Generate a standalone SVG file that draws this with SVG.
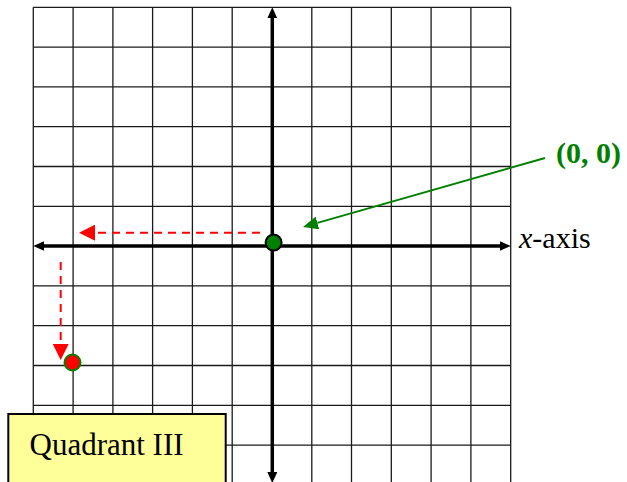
<svg xmlns="http://www.w3.org/2000/svg" width="627" height="482" viewBox="0 0 627 482">
  <style>
    .grid line { stroke: #1a1a1a; stroke-width: 1.3; }
    .axis { stroke: #000; stroke-width: 3.5; fill: none; }
    .reddash { stroke: #ff0000; stroke-width: 2; stroke-dasharray: 8 6; fill: none; }
    .greenline { stroke: #008000; stroke-width: 2; fill: none; }
    .lbl { font-family: "Liberation Serif", "Times New Roman", serif; fill: #000; }
  </style>
  <defs>
    <marker id="axisArrow" markerUnits="userSpaceOnUse" markerWidth="11" markerHeight="10" viewBox="0 0 11 10" refX="5" refY="5" orient="auto">
      <path d="M0,0 L11,5 L0,10 z" fill="#000"/>
    </marker>
    <marker id="redArrow" markerUnits="userSpaceOnUse" markerWidth="16" markerHeight="16" viewBox="0 0 16 16" refX="0" refY="8" orient="auto">
      <path d="M0,0 L16,8 L0,16 z" fill="#ff0000"/>
    </marker>
    <marker id="greenArrow" markerUnits="userSpaceOnUse" markerWidth="15" markerHeight="13" viewBox="0 0 15 13" refX="0" refY="6.5" orient="auto">
      <path d="M0,0 L15,6.5 L0,13 z" fill="#008000"/>
    </marker>
  </defs>
  <rect x="0" y="0" width="627" height="482" fill="#fff"/>

  <g id="grid" class="grid">
    <line x1="33.3" y1="7.3" x2="33.3" y2="482"/>
    <line x1="73.1" y1="7.3" x2="73.1" y2="482"/>
    <line x1="112.9" y1="7.3" x2="112.9" y2="482"/>
    <line x1="152.6" y1="7.3" x2="152.6" y2="482"/>
    <line x1="192.4" y1="7.3" x2="192.4" y2="482"/>
    <line x1="232.2" y1="7.3" x2="232.2" y2="482"/>
    <line x1="311.8" y1="7.3" x2="311.8" y2="482"/>
    <line x1="351.5" y1="7.3" x2="351.5" y2="482"/>
    <line x1="391.3" y1="7.3" x2="391.3" y2="482"/>
    <line x1="431.1" y1="7.3" x2="431.1" y2="482"/>
    <line x1="470.9" y1="7.3" x2="470.9" y2="482"/>
    <line x1="510.7" y1="7.3" x2="510.7" y2="482"/>
    <line x1="33.3" y1="7.3" x2="510.7" y2="7.3"/>
    <line x1="33.3" y1="47.1" x2="510.7" y2="47.1"/>
    <line x1="33.3" y1="86.9" x2="510.7" y2="86.9"/>
    <line x1="33.3" y1="126.7" x2="510.7" y2="126.7"/>
    <line x1="33.3" y1="166.5" x2="510.7" y2="166.5"/>
    <line x1="33.3" y1="206.3" x2="510.7" y2="206.3"/>
    <line x1="33.3" y1="285.9" x2="510.7" y2="285.9"/>
    <line x1="33.3" y1="325.7" x2="510.7" y2="325.7"/>
    <line x1="33.3" y1="365.5" x2="510.7" y2="365.5"/>
    <line x1="33.3" y1="405.3" x2="510.7" y2="405.3"/>
    <line x1="33.3" y1="445.1" x2="510.7" y2="445.1"/>
  </g>

  <g id="axes">
    <line class="axis" x1="272.3" y1="246" x2="272.3" y2="13.3" marker-end="url(#axisArrow)"/>
    <line class="axis" x1="272.3" y1="246" x2="272.3" y2="477" marker-end="url(#axisArrow)"/>
    <line class="axis" x1="272.3" y1="246" x2="39.3" y2="246" marker-end="url(#axisArrow)"/>
    <line class="axis" x1="272.3" y1="246" x2="504.7" y2="246" marker-end="url(#axisArrow)"/>
  </g>

  <g id="connectors">
    <line class="reddash" x1="260" y1="232.7" x2="95" y2="232.7" marker-end="url(#redArrow)"/>
    <line class="reddash" x1="60.7" y1="262" x2="60.7" y2="344" marker-end="url(#redArrow)"/>
    <line class="greenline" x1="545" y1="158" x2="317.4" y2="222.9" marker-end="url(#greenArrow)"/>
  </g>

  <g id="origin-point">
    <circle cx="273.6" cy="242.6" r="8" fill="#008000" stroke="#000" stroke-width="2"/>
  </g>

  <g id="red-point">
    <circle cx="72.5" cy="362.5" r="8" fill="#ff0000" stroke="#008000" stroke-width="2"/>
  </g>

  <g id="origin-label">
    <text class="lbl" x="556" y="163" font-size="30" font-weight="bold" style="fill:#008000">(0, 0)</text>
  </g>

  <g id="x-axis-label">
    <text class="lbl" x="519" y="248.3" font-size="30"><tspan font-style="italic">x</tspan>-axis</text>
  </g>

  <g id="quadrant-box">
    <rect x="8.3" y="414" width="217.4" height="80" fill="#ffff99" stroke="#000" stroke-width="2"/>
    <text class="lbl" x="29.5" y="455" font-size="31">Quadrant III</text>
  </g>
</svg>
